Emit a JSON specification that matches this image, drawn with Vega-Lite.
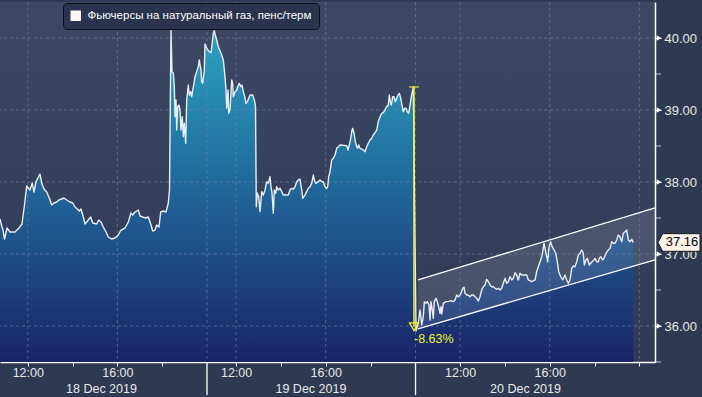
{
  "$schema": "https://vega.github.io/schema/vega-lite/v6.json",
  "width": 655,
  "height": 360,
  "autosize": {"type": "none"},
  "padding": {"left": 0, "top": 2, "right": 47, "bottom": 35},
  "background": "#2e3a52",
  "config": {
    "font": "Liberation Sans",
    "axis": {"title": null},
    "view": {"stroke": null, "fill": {"gradient": "linear", "x1": 0, "y1": 0, "x2": 0, "y2": 1, "stops": [{"offset": 0, "color": "#3c4864"}, {"offset": 1, "color": "#2f3a55"}]}}
  },
  "datasets": {
    "price": [
      {"t":0,"v":37.486},{"t":0.089,"v":37.375},{"t":0.134,"v":37.333},{"t":0.201,"v":37.208},{"t":0.313,"v":37.361},{"t":0.446,"v":37.306},{"t":0.670,"v":37.306},{"t":0.848,"v":37.361},{"t":0.982,"v":37.417},{"t":1.103,"v":37.708},{"t":1.192,"v":37.944},{"t":1.339,"v":37.889},{"t":1.442,"v":37.986},{"t":1.518,"v":37.861},{"t":1.607,"v":38.000},{"t":1.710,"v":38.069},{"t":1.786,"v":38.111},{"t":1.862,"v":37.986},{"t":1.964,"v":37.903},{"t":2.085,"v":37.861},{"t":2.201,"v":37.778},{"t":2.308,"v":37.681},{"t":2.411,"v":37.708},{"t":2.531,"v":37.722},{"t":2.634,"v":37.750},{"t":2.754,"v":37.764},{"t":2.857,"v":37.778},{"t":2.978,"v":37.750},{"t":3.125,"v":37.722},{"t":3.246,"v":37.708},{"t":3.348,"v":37.653},{"t":3.451,"v":37.625},{"t":3.540,"v":37.597},{"t":3.616,"v":37.625},{"t":3.719,"v":37.514},{"t":3.795,"v":37.417},{"t":3.942,"v":37.472},{"t":4.049,"v":37.514},{"t":4.138,"v":37.431},{"t":4.317,"v":37.417},{"t":4.406,"v":37.472},{"t":4.509,"v":37.444},{"t":4.612,"v":37.375},{"t":4.732,"v":37.306},{"t":4.835,"v":37.236},{"t":4.987,"v":37.208},{"t":5.134,"v":37.222},{"t":5.281,"v":37.264},{"t":5.402,"v":37.333},{"t":5.580,"v":37.361},{"t":5.728,"v":37.444},{"t":5.848,"v":37.569},{"t":5.924,"v":37.542},{"t":6.027,"v":37.583},{"t":6.174,"v":37.611},{"t":6.250,"v":37.528},{"t":6.371,"v":37.514},{"t":6.504,"v":37.500},{"t":6.621,"v":37.514},{"t":6.728,"v":37.417},{"t":6.817,"v":37.319},{"t":6.920,"v":37.333},{"t":6.996,"v":37.403},{"t":7.098,"v":37.375},{"t":7.174,"v":37.583},{"t":7.290,"v":37.597},{"t":7.411,"v":37.583},{"t":7.513,"v":37.708},{"t":7.567,"v":37.889},
      {"t":7.634,"v":40.111},{"t":7.679,"v":39.532},{"t":7.737,"v":39.510},{"t":7.781,"v":39.324},{"t":7.813,"v":38.907},{"t":7.857,"v":39.139},{"t":7.888,"v":38.722},{"t":7.933,"v":39.046},{"t":7.991,"v":39.069},{"t":8.036,"v":39.000},{"t":8.080,"v":38.722},{"t":8.138,"v":38.907},{"t":8.183,"v":38.629},{"t":8.228,"v":38.815},{"t":8.290,"v":38.538},{"t":8.335,"v":39.139},{"t":8.406,"v":39.347},{"t":8.451,"v":39.208},{"t":8.513,"v":39.254},{"t":8.558,"v":39.185},{"t":8.603,"v":39.278},{"t":8.661,"v":39.371},{"t":8.705,"v":39.463},{"t":8.781,"v":39.532},{"t":8.853,"v":39.602},{"t":8.897,"v":39.695},{"t":8.929,"v":39.625},{"t":8.973,"v":39.556},{"t":9.004,"v":39.393},{"t":9.049,"v":39.371},{"t":9.076,"v":39.440},{"t":9.121,"v":39.556},{"t":9.152,"v":39.917},{"t":9.196,"v":39.879},{"t":9.254,"v":39.843},{"t":9.344,"v":39.810},{"t":9.420,"v":39.796},{"t":9.464,"v":39.903},{"t":9.522,"v":40.065},{"t":9.567,"v":40.101},{"t":9.612,"v":40.042},{"t":9.674,"v":39.972},{"t":9.746,"v":39.879},{"t":9.821,"v":39.824},{"t":9.897,"v":39.764},{"t":9.969,"v":39.695},{"t":10.045,"v":39.463},{"t":10.089,"v":39.278},{"t":10.121,"v":39.024},{"t":10.179,"v":39.278},{"t":10.210,"v":38.954},{"t":10.268,"v":39.000},{"t":10.344,"v":39.417},{"t":10.388,"v":39.371},{"t":10.415,"v":39.185},{"t":10.491,"v":39.254},{"t":10.567,"v":39.278},{"t":10.612,"v":39.324},{"t":10.683,"v":39.371},{"t":10.746,"v":39.324},{"t":10.804,"v":39.347},{"t":10.862,"v":39.254},{"t":10.924,"v":39.185},{"t":10.982,"v":39.093},{"t":11.040,"v":39.116},{"t":11.103,"v":39.163},{"t":11.161,"v":39.208},{"t":11.281,"v":39.208},{"t":11.371,"v":39.116},{"t":11.406,"v":39.046},{"t":11.442,"v":37.657},{"t":11.487,"v":37.847},{"t":11.549,"v":37.796},{"t":11.607,"v":37.588},{"t":11.683,"v":37.866},{"t":11.754,"v":37.819},{"t":11.830,"v":37.889},{"t":11.906,"v":38.004},{"t":11.978,"v":37.982},{"t":12.054,"v":38.074},{"t":12.098,"v":37.935},{"t":12.143,"v":37.843},{"t":12.201,"v":37.565},{"t":12.246,"v":37.889},{"t":12.308,"v":37.843},{"t":12.353,"v":37.935},{"t":12.424,"v":37.889},{"t":12.500,"v":37.913},{"t":12.576,"v":37.866},{"t":12.647,"v":37.819},{"t":12.871,"v":37.819},{"t":12.946,"v":37.889},{"t":13.022,"v":37.913},{"t":13.094,"v":37.899},{"t":13.170,"v":37.935},{"t":13.246,"v":38.004},{"t":13.317,"v":38.028},{"t":13.393,"v":38.038},{"t":13.469,"v":37.889},{"t":13.513,"v":37.774},{"t":13.616,"v":37.819},{"t":13.692,"v":37.866},{"t":13.763,"v":37.913},{"t":13.839,"v":37.935},{"t":13.915,"v":37.982},{"t":13.987,"v":38.097},{"t":14.031,"v":38.028},{"t":14.094,"v":37.982},{"t":14.210,"v":38.004},{"t":14.286,"v":38.028},{"t":14.362,"v":38.004},{"t":14.433,"v":38.004},{"t":14.509,"v":37.935},{"t":14.585,"v":37.913},{"t":14.629,"v":37.935},{"t":14.674,"v":38.074},{"t":14.732,"v":38.143},{"t":14.808,"v":38.306},{"t":14.879,"v":38.329},{"t":14.955,"v":38.375},{"t":15.031,"v":38.468},{"t":15.103,"v":38.490},{"t":15.179,"v":38.514},{"t":15.478,"v":38.504},{"t":15.536,"v":38.445},{"t":15.594,"v":38.514},{"t":15.656,"v":38.607},{"t":15.714,"v":38.722},{"t":15.746,"v":38.746},{"t":15.804,"v":38.677},{"t":15.862,"v":38.560},{"t":15.924,"v":38.490},{"t":15.969,"v":38.472},{"t":16.013,"v":38.514},{"t":16.071,"v":38.468},{"t":16.219,"v":38.445},{"t":16.295,"v":38.421},{"t":16.371,"v":38.490},{"t":16.442,"v":38.538},{"t":16.518,"v":38.583},{"t":16.594,"v":38.607},{"t":16.665,"v":38.653},{"t":16.741,"v":38.685},{"t":16.817,"v":38.722},{"t":16.888,"v":38.838},{"t":16.964,"v":38.907},{"t":17.040,"v":38.954},{"t":17.112,"v":38.963},{"t":17.188,"v":39.000},{"t":17.263,"v":39.046},{"t":17.335,"v":39.069},{"t":17.379,"v":39.208},{"t":17.424,"v":39.116},{"t":17.469,"v":39.069},{"t":17.531,"v":39.185},{"t":17.589,"v":39.185},{"t":17.647,"v":39.116},{"t":17.710,"v":39.163},{"t":17.768,"v":39.208},{"t":17.826,"v":39.232},{"t":17.888,"v":39.163},{"t":17.946,"v":39.069},{"t":18.004,"v":38.976},{"t":18.067,"v":39.024},{"t":18.125,"v":39.024},{"t":18.183,"v":38.976},{"t":18.246,"v":38.954},{"t":18.304,"v":39.069},{"t":18.362,"v":39.185},{"t":18.424,"v":39.278},{"t":18.451,"v":39.324},
      {"t":18.571,"v":35.931},{"t":18.674,"v":36.042},{"t":18.750,"v":36.222},{"t":18.826,"v":36.014},{"t":18.897,"v":36.129},{"t":18.942,"v":36.338},{"t":19.018,"v":36.315},{"t":19.076,"v":36.338},{"t":19.152,"v":36.292},{"t":19.196,"v":36.083},{"t":19.241,"v":36.338},{"t":19.299,"v":36.222},{"t":19.344,"v":36.107},{"t":19.388,"v":36.338},{"t":19.464,"v":36.385},{"t":19.522,"v":36.338},{"t":19.598,"v":36.246},{"t":19.643,"v":36.176},{"t":19.688,"v":36.268},{"t":19.719,"v":36.167},{"t":19.790,"v":36.315},{"t":19.911,"v":36.338},{"t":20.013,"v":36.338},{"t":20.121,"v":36.352},{"t":20.237,"v":36.338},{"t":20.313,"v":36.361},{"t":20.388,"v":36.431},{"t":20.460,"v":36.407},{"t":20.536,"v":36.431},{"t":20.612,"v":36.477},{"t":20.656,"v":36.524},{"t":20.714,"v":36.538},{"t":20.759,"v":36.454},{"t":20.835,"v":36.431},{"t":20.906,"v":36.431},{"t":20.982,"v":36.407},{"t":21.058,"v":36.431},{"t":21.129,"v":36.431},{"t":21.205,"v":36.407},{"t":21.281,"v":36.385},{"t":21.353,"v":36.347},{"t":21.429,"v":36.407},{"t":21.504,"v":36.500},{"t":21.576,"v":36.546},{"t":21.652,"v":36.570},{"t":21.728,"v":36.649},{"t":21.799,"v":36.615},{"t":21.875,"v":36.570},{"t":21.951,"v":36.546},{"t":22.022,"v":36.546},{"t":22.098,"v":36.524},{"t":22.174,"v":36.510},{"t":22.246,"v":36.524},{"t":22.321,"v":36.500},{"t":22.397,"v":36.524},{"t":22.469,"v":36.593},{"t":22.545,"v":36.663},{"t":22.621,"v":36.593},{"t":22.692,"v":36.615},{"t":22.768,"v":36.685},{"t":22.844,"v":36.639},{"t":22.915,"v":36.663},{"t":22.991,"v":36.740},{"t":23.067,"v":36.709},{"t":23.138,"v":36.639},{"t":23.214,"v":36.732},{"t":23.290,"v":36.709},{"t":23.393,"v":36.709},{"t":23.513,"v":36.709},{"t":23.585,"v":36.639},{"t":23.737,"v":36.615},{"t":23.884,"v":36.639},{"t":23.960,"v":36.754},{"t":24.031,"v":36.824},{"t":24.107,"v":36.893},{"t":24.183,"v":36.963},{"t":24.228,"v":37.032},{"t":24.286,"v":37.149},{"t":24.375,"v":37.010},{"t":24.451,"v":36.893},{"t":24.509,"v":37.101},{"t":24.585,"v":37.171},{"t":24.643,"v":37.101},{"t":24.732,"v":37.056},{"t":24.808,"v":37.010},{"t":24.879,"v":36.893},{"t":24.942,"v":36.754},{"t":25.031,"v":36.685},{"t":25.121,"v":36.639},{"t":25.223,"v":36.709},{"t":25.299,"v":36.639},{"t":25.371,"v":36.593},{"t":25.446,"v":36.639},{"t":25.522,"v":36.801},{"t":25.594,"v":36.833},{"t":25.670,"v":36.824},{"t":25.746,"v":36.893},{"t":25.817,"v":36.986},{"t":25.893,"v":37.010},{"t":25.969,"v":37.056},{"t":26.040,"v":37.010},{"t":26.085,"v":36.847},{"t":26.161,"v":36.917},{"t":26.219,"v":36.940},{"t":26.308,"v":36.847},{"t":26.371,"v":36.871},{"t":26.429,"v":36.893},{"t":26.518,"v":36.917},{"t":26.563,"v":36.940},{"t":26.638,"v":36.893},{"t":26.710,"v":36.893},{"t":26.754,"v":36.940},{"t":26.817,"v":36.963},{"t":26.906,"v":36.917},{"t":26.964,"v":36.940},{"t":27.054,"v":37.010},{"t":27.156,"v":37.056},{"t":27.232,"v":37.079},{"t":27.308,"v":37.171},{"t":27.379,"v":37.149},{"t":27.455,"v":37.149},{"t":27.531,"v":37.195},{"t":27.603,"v":37.264},{"t":27.679,"v":37.240},{"t":27.754,"v":37.171},{"t":27.826,"v":37.288},{"t":27.902,"v":37.310},{"t":27.978,"v":37.333},{"t":28.049,"v":37.195},{"t":28.125,"v":37.171},{"t":28.201,"v":37.204},{"t":28.272,"v":37.160}
    ],
    "band": [{"t": 18.66, "lo": 35.96, "hi": 36.64}, {"t": 29.24, "lo": 36.92, "hi": 37.64}],
    "gridh": [{"v": 36}, {"v": 37}, {"v": 38}, {"v": 39}, {"v": 40}],
    "minor": [{"v": 35.5}, {"v": 36.5}, {"v": 37.5}, {"v": 38.5}, {"v": 39.5}],
    "gridv": [{"t": 1.24}, {"t": 5.24}, {"t": 9.24}, {"t": 10.54}, {"t": 14.54}, {"t": 18.55}, {"t": 20.54}, {"t": 24.54}, {"t": 28.54}],
    "seps": [{"t": 9.24}, {"t": 18.55}],
    "days": [{"t": 4.53, "day": "18 Dec 2019"}, {"t": 13.88, "day": "19 Dec 2019"}, {"t": 23.46, "day": "20 Dec 2019"}],
    "drop": [{"t": 18.48, "from": 39.32, "to": 35.99, "label": "-8.63%"}],
    "last": [{"v": 37.16, "label": "37.16"}]
  },
  "layer": [
    {
      "data": {"name": "price"},
      "mark": {"type": "area", "line": false, "color": {"gradient": "linear", "x1": 0, "y1": 0, "x2": 0, "y2": 1, "stops": [{"offset": 0, "color": "#2aa3c2"}, {"offset": 0.45, "color": "#216a9c"}, {"offset": 1, "color": "#1a2468"}]}},
      "encoding": {
        "x": {"field": "t", "type": "quantitative", "scale": {"domain": [0, 29.24], "nice": false, "zero": false},
          "axis": {"values": [1.24, 3.24, 5.24, 7.24, 10.54, 12.54, 14.54, 16.54, 20.54, 22.54, 24.54, 26.54, 28.54],
            "labelExpr": "indexof([1.24,10.54,20.54], datum.value) >= 0 ? '12:00' : (indexof([5.24,14.54,24.54], datum.value) >= 0 ? '16:00' : '')",
            "grid": false, "tickSize": 4, "tickColor": "#ffffff", "tickWidth": 1, "domainColor": "#ffffff", "domainWidth": 1.5,
            "labelColor": "#e8e8e8", "labelFontSize": 12.5, "labelFont": "Liberation Sans", "labelPadding": 0, "labelBaseline": "top", "labelFlush": false, "labelOverlap": false}},
        "y": {"field": "v", "type": "quantitative", "scale": {"domain": [35.5, 40.5], "nice": false, "zero": false},
          "axis": {"orient": "right", "values": [36, 37, 38, 39, 40], "format": ".2f",
            "grid": false, "tickSize": 6, "tickColor": "#ffffff", "domainColor": "#ffffff", "domainWidth": 1.5,
            "labelColor": "#e8e8e8", "labelFontSize": 13, "labelFont": "Liberation Sans", "labelPadding": 3, "labelBaseline": "middle", "labelFlush": false, "labelOverlap": false}},
        "y2": {"datum": 35.5}
      }
    },
    {
      "data": {"name": "band"},
      "mark": {"type": "area", "color": "#dfe4ec", "opacity": 0.13},
      "encoding": {"x": {"field": "t", "type": "quantitative"}, "y": {"field": "hi", "type": "quantitative"}, "y2": {"field": "lo"}}
    },
    {
      "data": {"name": "gridh"},
      "mark": {"type": "rule", "color": "#7886a4", "opacity": 0.6, "strokeDash": [3, 3], "strokeWidth": 1},
      "encoding": {"y": {"field": "v", "type": "quantitative"}}
    },
    {
      "data": {"name": "gridv"},
      "mark": {"type": "rule", "color": "#7886a4", "opacity": 0.6, "strokeDash": [3, 3], "strokeWidth": 1},
      "encoding": {"x": {"field": "t", "type": "quantitative"}}
    },
    {
      "data": {"name": "price"},
      "mark": {"type": "line", "strokeWidth": 1.4, "strokeJoin": "round"},
      "encoding": {
        "x": {"field": "t", "type": "quantitative"},
        "y": {"field": "v", "type": "quantitative"},
        "color": {"datum": "Фьючерсы на натуральный газ, пенс/терм", "type": "nominal", "scale": {"range": ["#e9eef3"]},
          "legend": {"title": null, "orient": "none", "legendX": 63, "legendY": 1, "fillColor": "#2a344e", "strokeColor": "#0b0d12", "cornerRadius": 4, "padding": 7,
            "symbolType": "square", "symbolSize": 110, "labelFont": "Liberation Sans", "labelFontSize": 11.5, "labelColor": "#ffffff", "labelOffset": 6, "labelLimit": 400,
            "encode": {"symbols": {"update": {"fill": {"value": "#fff7f2"}, "stroke": {"value": "#fff7f2"}, "strokeWidth": {"value": 0}, "opacity": {"value": 1}, "shape": {"value": "square"}}}}}}
      }
    },
    {
      "data": {"name": "band"},
      "mark": {"type": "line", "color": "#ffffff", "strokeWidth": 1.3},
      "encoding": {"x": {"field": "t", "type": "quantitative"}, "y": {"field": "hi", "type": "quantitative"}}
    },
    {
      "data": {"name": "band"},
      "mark": {"type": "line", "color": "#ffffff", "strokeWidth": 1.3},
      "encoding": {"x": {"field": "t", "type": "quantitative"}, "y": {"field": "lo", "type": "quantitative"}}
    },
    {
      "data": {"name": "drop"},
      "mark": {"type": "rule", "color": "#f2f229", "strokeWidth": 1.5},
      "encoding": {"x": {"field": "t", "type": "quantitative"}, "y": {"field": "from", "type": "quantitative"}, "y2": {"field": "to"}}
    },
    {
      "data": {"name": "drop"},
      "mark": {"type": "tick", "orient": "horizontal", "color": "#f2f229", "size": 10, "thickness": 1.5},
      "encoding": {"x": {"field": "t", "type": "quantitative"}, "y": {"field": "from", "type": "quantitative"}}
    },
    {
      "data": {"name": "drop"},
      "mark": {"type": "point", "shape": "triangle-down", "filled": false, "color": "#f2f229", "size": 80, "strokeWidth": 1.3, "opacity": 1},
      "encoding": {"x": {"field": "t", "type": "quantitative"}, "y": {"field": "to", "type": "quantitative"}}
    },
    {
      "data": {"name": "drop"},
      "mark": {"type": "text", "color": "#f2f229", "font": "Liberation Sans", "fontSize": 12.5, "align": "left", "baseline": "alphabetic", "dx": 0, "dy": 16},
      "encoding": {"x": {"field": "t", "type": "quantitative"}, "y": {"field": "to", "type": "quantitative"}, "text": {"field": "label"}}
    },
    {
      "data": {"name": "seps"},
      "mark": {"type": "rule", "color": "#ffffff", "strokeWidth": 1.3},
      "encoding": {"x": {"field": "t", "type": "quantitative"}, "y": {"datum": 35.5}, "y2": {"datum": 35.04}}
    },
    {
      "data": {"name": "days"},
      "mark": {"type": "text", "color": "#e8e8e8", "font": "Liberation Sans", "fontSize": 12.5, "align": "center", "baseline": "alphabetic", "dy": 31},
      "encoding": {"x": {"field": "t", "type": "quantitative"}, "y": {"datum": 35.5}, "text": {"field": "day"}}
    },
    {
      "data": {"name": "minor"},
      "mark": {"type": "tick", "orient": "horizontal", "color": "#ffffff", "size": 6, "thickness": 1, "xOffset": 3},
      "encoding": {"x": {"datum": 29.24}, "y": {"field": "v", "type": "quantitative"}}
    },
    {
      "data": {"name": "gridh"},
      "mark": {"type": "point", "shape": "triangle-right", "filled": true, "color": "#ffffff", "size": 28, "opacity": 1, "xOffset": 4},
      "encoding": {"x": {"datum": 29.24}, "y": {"field": "v", "type": "quantitative"}}
    },
    {
      "data": {"name": "last"},
      "mark": {"type": "point", "shape": "M-1,0L-0.78,-0.42L1,-0.42L1,0.42L-0.78,0.42Z", "filled": true, "color": "#fdf3e8", "stroke": "#1a1a1a", "strokeWidth": 1, "size": 1764, "opacity": 1, "xOffset": 24},
      "encoding": {"x": {"datum": 29.24}, "y": {"field": "v", "type": "quantitative"}}
    },
    {
      "data": {"name": "last"},
      "mark": {"type": "text", "color": "#000000", "font": "Liberation Sans", "fontSize": 13, "align": "center", "baseline": "middle", "xOffset": 27},
      "encoding": {"x": {"datum": 29.24}, "y": {"field": "v", "type": "quantitative"}, "text": {"field": "label"}}
    }
  ]
}
